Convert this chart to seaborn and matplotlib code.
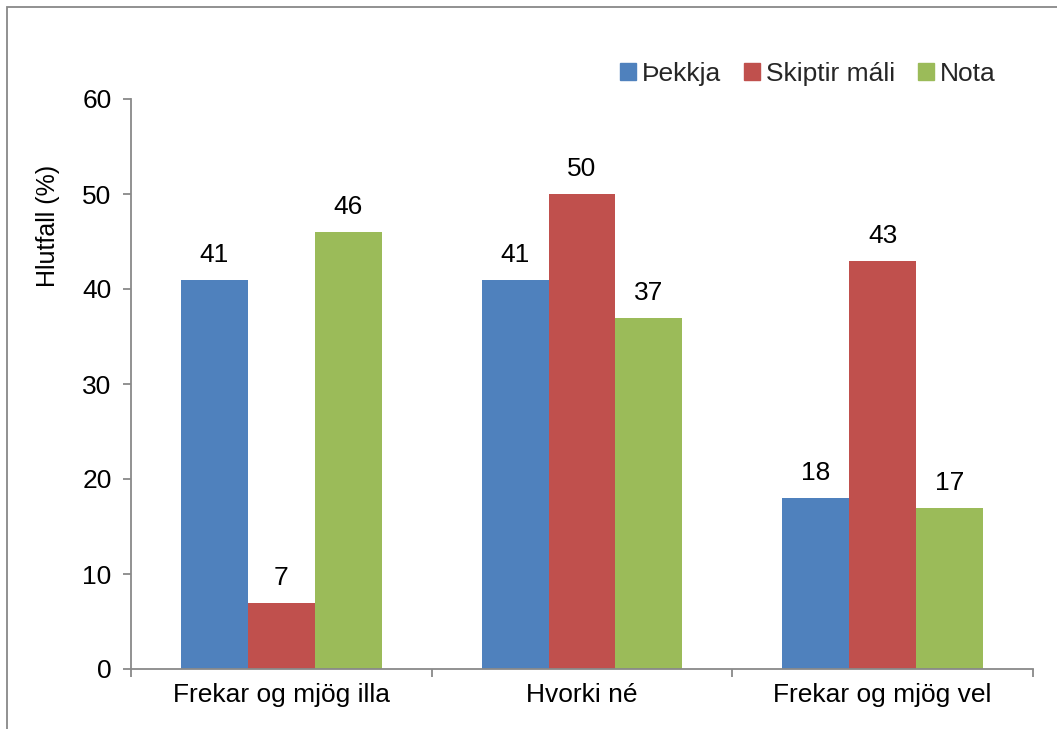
import matplotlib
matplotlib.use("Agg")
import matplotlib.pyplot as plt
import matplotlib.patches as mpatches
import seaborn as sns
import pandas as pd

categories = ["Frekar og mjög illa", "Hvorki né", "Frekar og mjög vel"]
series_names = ["Þekkja", "Skiptir máli", "Nota"]
thekkja = [41, 41, 18]
skiptir = [7, 50, 43]
nota = [46, 37, 17]
colors = ["#4F81BD", "#C0504D", "#9BBB59"]

rows = []
for name, vals in zip(series_names, [thekkja, skiptir, nota]):
    for c, v in zip(categories, vals):
        rows.append({"Flokkur": c, "Röð": name, "Gildi": v})
df = pd.DataFrame(rows)

sns.set_theme(style="white")
plt.rcParams["font.family"] = ["Liberation Sans", "DejaVu Sans"]
FS = 19

fig = plt.figure(figsize=(10.57, 7.29), dpi=100)
ax = fig.add_axes([131/1057, 1-669/729, (1033-131)/1057, (669-99)/729])

sns.barplot(data=df, x="Flokkur", y="Gildi", hue="Röð", hue_order=series_names,
            order=categories, palette=colors, width=0.667, gap=0, ax=ax,
            saturation=1, legend=False, errorbar=None, linewidth=0)

for cont in ax.containers:
    ax.bar_label(cont, padding=9, fontsize=FS, color="black")

ax.set_ylim(0, 60)
ax.set_xlim(-0.5, 2.5)
ax.set_yticks(range(0, 61, 10))
ax.set_xlabel("")
ax.set_ylabel("Hlutfall (%)", fontsize=FS - 1, color="black")
ax.yaxis.set_label_coords(-(131 - 60) / 902, (669 - 226) / 570)
axcol = "#898989"
for s in ["top", "right"]:
    ax.spines[s].set_visible(False)
for s in ["left", "bottom"]:
    ax.spines[s].set_color(axcol)
    ax.spines[s].set_linewidth(1.3)
ax.tick_params(axis="y", which="major", length=6, width=1.3, color=axcol,
               direction="out", left=True, labelsize=FS, pad=8, labelcolor="black")
ax.tick_params(axis="x", which="major", length=0, labelsize=FS, pad=10, labelcolor="black")
ax.set_xticks([-0.5, 0.5, 1.5, 2.5], minor=True)
ax.tick_params(axis="x", which="minor", length=6, width=1.3, color=axcol,
               direction="out", bottom=True)

handles = [mpatches.Patch(color=c, label=n) for c, n in zip(colors, series_names)]
fig.legend(handles=handles, loc="center right", bbox_to_anchor=(996/1057, 1-74/729),
           ncol=3, frameon=False, fontsize=FS, handlelength=0.6, handleheight=0.6,
           handletextpad=0.25, columnspacing=0.85, borderaxespad=0, borderpad=0)

border = mpatches.Rectangle((7/1057, -0.1), 1.2, 1.1 - 7/729, transform=fig.transFigure,
                            fill=False, edgecolor="#888888", linewidth=1.3)
fig.patches.append(border)

fig.savefig("out.png", dpi=100)
